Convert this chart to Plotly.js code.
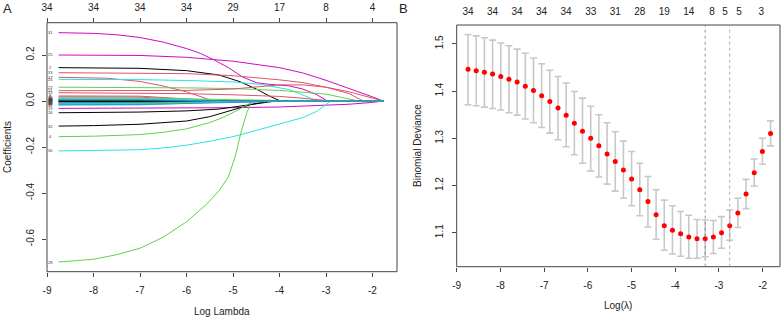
<!DOCTYPE html>
<html>
<head>
<meta charset="utf-8">
<script src="https://cdn.plot.ly/plotly-3.0.1.min.js"></script>
<style>
  html, body { margin: 0; padding: 0; background: #fff; }
  #chart { width: 784px; height: 320px; }
</style>
</head>
<body>
<div id="chart"></div>
<script>
// ---- Panel A: lasso coefficient paths ----
const varIds = [31, 25, 2, 33, 27, 24, 22, 21, 15, 19, 26, 32, 4, 30, 28,
                1, 3, 5, 6, 7, 8, 9, 10, 11, 12, 13, 14, 16, 17, 18, 20, 23, 34, 29];
const pathX = [
  [-8.75, -8, -7.5, -7, -6.5, -6, -5.7, -5.4, -5.1, -4.8, -4.5, -4.2, -3.8, -3.5, -3.2, -2.97, -1.77], // 31
  [-8.75, -7, -6, -5, -4, -3.5, -3, -2.5, -2, -1.77],                  // 25
  [-8.75, -7, -6, -5.3, -4.85, -4.5, -4.2, -3.98, -1.77],             // 2
  [-8.75, -7, -6, -5, -4.5, -4, -3.5, -3, -2.5, -2.2, -1.77],         // 33
  [-8.75, -7.7, -7, -6.5, -6, -5.42, -1.77],                          // 27
  [-8.75, -7, -6, -5, -4.4, -3.8, -3.45, -3.2, -1.77],                // 24
  [-8.75, -7, -6, -5, -4, -3, -2.6, -2.3, -1.77],                     // 22
  [-8.75, -7, -6, -5, -4.5, -4, -3.5, -3, -2.5, -2, -1.77],           // 21
  [-8.75, -7, -6, -5, -4, -3.5, -2.88, -1.77],                        // 15
  [-8.75, -7, -6, -5, -4, -3, -2.5, -2, -1.77],                       // 19
  [-8.75, -7, -6, -5.3, -4.7, -4.2, -1.77],                           // 26
  [-8.75, -8, -7, -6, -5.5, -5, -4.6, -4.08, -1.77],                  // 32
  [-8.75, -8, -7, -6.5, -6, -5.5, -5.2, -4.9, -4.55, -1.77],          // 4
  [-8.75, -8, -7, -6.5, -6, -5.5, -5, -4.5, -4, -3.5, -3.2, -2.9, -1.77], // 30
  [-8.75, -8, -7.5, -7, -6.5, -6, -5.6, -5.3, -5.1, -4.95, -4.82, -4.7, -4.6, -1.77], // 28
  [-8.75, -7, -5.95, -1.77], [-8.75, -7, -5.6, -1.77], [-8.75, -7, -3.3, -1.77],
  [-8.75, -7, -5.05, -1.77], [-8.75, -7, -4.75, -1.77], [-8.75, -7, -3.9, -1.77],
  [-8.75, -7, -5.2, -1.77],  [-8.75, -7, -3.4, -1.77],  [-8.75, -7, -3.5, -1.77],
  [-8.75, -7, -4.4, -1.77],  [-8.75, -7, -4.9, -1.77],  [-8.75, -7, -3.8, -1.77],
  [-8.75, -7, -4.3, -1.77],  [-8.75, -7, -3.55, -1.77], [-8.75, -7, -4.65, -1.77],
  [-8.75, -7, -4.5, -1.77],  [-8.75, -7, -3.65, -1.77], [-8.75, -7, -4.8, -1.77],
  [-8.75, -7, -4.7, -1.77]
];
const pathY = [
  [0.297, 0.294, 0.288, 0.276, 0.256, 0.228, 0.207, 0.178, 0.145, 0.105, 0.08, 0.072, 0.066, 0.052, 0.028, 0, 0],
  [0.200, 0.198, 0.19, 0.173, 0.145, 0.122, 0.09, 0.055, 0.018, 0],
  [0.145, 0.142, 0.132, 0.113, 0.084, 0.052, 0.02, 0, 0],
  [0.123, 0.122, 0.119, 0.11, 0.102, 0.092, 0.08, 0.06, 0.032, 0, 0],
  [0.103, 0.099, 0.085, 0.065, 0.04, 0, 0],
  [0.094, 0.093, 0.089, 0.083, 0.072, 0.05, 0.022, 0, 0],
  [0.060, 0.059, 0.057, 0.054, 0.046, 0.03, 0.014, 0, 0],
  [0.045, 0.045, 0.046, 0.052, 0.062, 0.07, 0.07, 0.06, 0.04, 0.014, 0],
  [0.036, 0.035, 0.032, 0.027, 0.02, 0.012, 0, 0],
  [-0.032, -0.032, -0.031, -0.029, -0.026, -0.019, -0.014, -0.006, 0],
  [-0.051, -0.048, -0.043, -0.035, -0.018, 0, 0],
  [-0.109, -0.107, -0.101, -0.087, -0.068, -0.038, -0.015, 0, 0],
  [-0.155, -0.153, -0.146, -0.136, -0.121, -0.094, -0.07, -0.04, 0, 0],
  [-0.217, -0.216, -0.212, -0.204, -0.192, -0.175, -0.155, -0.128, -0.10, -0.072, -0.045, 0, 0],
  [-0.700, -0.688, -0.668, -0.640, -0.592, -0.525, -0.455, -0.39, -0.33, -0.24, -0.13, -0.05, 0, 0],
  [-0.008, -0.0075, 0, 0], [0.018, 0.017, 0, 0], [-0.004, -0.004, 0, 0],
  [0.010, 0.0095, 0, 0],   [-0.014, -0.013, 0, 0], [0.003, 0.003, 0, 0],
  [0.022, 0.021, 0, 0],    [0.014, 0.013, 0, 0],   [-0.010, -0.0095, 0, 0],
  [-0.018, -0.017, 0, 0],  [0.006, 0.0055, 0, 0],  [-0.002, -0.002, 0, 0],
  [0.008, 0.0075, 0, 0],   [-0.016, -0.015, 0, 0], [0.012, 0.011, 0, 0],
  [0.001, 0.001, 0, 0],    [-0.007, -0.0065, 0, 0], [-0.012, -0.011, 0, 0],
  [0.004, 0.004, 0, 0]
];
const topTicksA = [-9, -8, -7, -6, -5, -4, -3, -2];
const topLabelsA = ['34', '34', '34', '34', '29', '17', '8', '4'];
const yTicksA = [-0.6, -0.4, -0.2, 0, 0.2];
const yLabelsA = ['-0.6', '-0.4', '-0.2', '0.0', '0.2'];

// ---- Panel B: cross-validated binomial deviance ----
const cvLogLambda = [-8.740, -8.553, -8.366, -8.179, -7.992, -7.805, -7.617, -7.430, -7.243, -7.056,
  -6.869, -6.682, -6.495, -6.308, -6.121, -5.934, -5.747, -5.559, -5.372, -5.185,
  -4.998, -4.811, -4.624, -4.437, -4.250, -4.063, -3.876, -3.689, -3.501, -3.314,
  -3.127, -2.940, -2.753, -2.566, -2.379, -2.192, -2.005, -1.818];
const cvMean = [1.446, 1.443, 1.440, 1.436, 1.431, 1.425, 1.419, 1.410, 1.401, 1.390,
  1.378, 1.364, 1.349, 1.332, 1.315, 1.300, 1.284, 1.267, 1.251, 1.233,
  1.214, 1.191, 1.166, 1.138, 1.115, 1.105, 1.098, 1.091, 1.087, 1.087,
  1.091, 1.100, 1.115, 1.142, 1.182, 1.227, 1.272, 1.310];
const cvUpper = [1.520, 1.517, 1.513, 1.508, 1.502, 1.496, 1.489, 1.480, 1.470, 1.458,
  1.444, 1.431, 1.417, 1.399, 1.385, 1.368, 1.350, 1.333, 1.314, 1.294,
  1.272, 1.247, 1.219, 1.191, 1.169, 1.157, 1.145, 1.137, 1.128, 1.127,
  1.126, 1.134, 1.148, 1.173, 1.213, 1.256, 1.300, 1.337];
const cvLower = [1.371, 1.369, 1.366, 1.363, 1.360, 1.354, 1.349, 1.341, 1.333, 1.323,
  1.311, 1.297, 1.282, 1.265, 1.247, 1.231, 1.218, 1.203, 1.188, 1.173,
  1.157, 1.136, 1.112, 1.086, 1.063, 1.055, 1.050, 1.046, 1.046, 1.049,
  1.056, 1.067, 1.084, 1.111, 1.151, 1.199, 1.245, 1.284];
const lambdaMinIdx = 29, lambda1seIdx = 32;
const topTicksB = [-8.74, -8.18, -7.62, -7.06, -6.50, -5.93, -5.37, -4.81, -4.25, -3.69, -3.16, -2.86, -2.54, -2.03];
const topLabelsB = ['34', '34', '34', '34', '34', '33', '31', '28', '19', '14', '8', '5', '5', '3'];
const xTicks = [-9, -8, -7, -6, -5, -4, -3, -2];
const xLabels = ['-9', '-8', '-7', '-6', '-5', '-4', '-3', '-2'];
const yTicksB = [1.1, 1.2, 1.3, 1.4, 1.5];

// R default palette, matplot cycles 1:6
const PALETTE = ['#000000', '#DF536B', '#61D04F', '#2297E6', '#28E2E5', '#CD0BBC'];
const FONT = 'Liberation Sans, Arial, Helvetica, sans-serif';
const INK = '#222';
const W = 784, H = 320;
const px = v => v / W, py = v => 1 - v / H;

const traces = [];
varIds.forEach((id, k) => {
  traces.push({
    x: pathX[k], y: pathY[k], type: 'scatter', mode: 'lines',
    line: { color: PALETTE[(id + 4) % 6], width: 1 },
    xaxis: 'x', yaxis: 'y', showlegend: false, hoverinfo: 'skip'
  });
});
traces.push({
  x: cvLogLambda, y: cvMean, type: 'scatter', mode: 'markers',
  marker: { color: '#ff0000', size: 5 },
  error_y: {
    type: 'data', symmetric: false,
    array: cvUpper.map((u, i) => u - cvMean[i]),
    arrayminus: cvLower.map((l, i) => cvMean[i] - l),
    color: '#c8c8c8', thickness: 1.6, width: 3.5
  },
  xaxis: 'x2', yaxis: 'y2', showlegend: false, hoverinfo: 'skip'
});
// empty traces so the top (count) axes get drawn
traces.push({ x: [], y: [], type: 'scatter', mode: 'lines', xaxis: 'x3', yaxis: 'y',
  showlegend: false, hoverinfo: 'skip' });
traces.push({ x: [], y: [], type: 'scatter', mode: 'lines', xaxis: 'x4', yaxis: 'y2',
  showlegend: false, hoverinfo: 'skip' });

const axBase = {
  showgrid: false, zeroline: false, showline: false,
  ticks: 'outside', ticklen: 4, tickcolor: '#444', tickwidth: 1,
  tickfont: { family: FONT, size: 10, color: INK }
};

const varLabels = varIds.map((id, k) => ({
  x: -8.93, y: pathY[k][0], xref: 'x', yref: 'y', text: String(id),
  showarrow: false, xanchor: 'center', yanchor: 'middle',
  font: { family: FONT, size: 4, color: '#333' }
}));

const textAnn = (text, x, y, size, angle) => ({
  text, x: px(x), y: py(y), xref: 'paper', yref: 'paper', showarrow: false,
  xanchor: 'center', yanchor: 'middle', textangle: angle || 0,
  font: { family: FONT, size, color: INK }
});

const layout = {
  width: W, height: H,
  margin: { l: 0, r: 0, t: 0, b: 0 },
  paper_bgcolor: '#fff', plot_bgcolor: '#fff',
  xaxis: Object.assign({}, axBase, {
    domain: [px(47), px(397)], range: [-9.0, -1.473], anchor: 'y',
    tickvals: xTicks, ticktext: xLabels, ticklabelstandoff: 5
  }),
  yaxis: Object.assign({}, axBase, {
    domain: [py(271.7), py(22.7)], range: [-0.742, 0.3404], anchor: 'x',
    tickvals: yTicksA, ticktext: yLabelsA, tickangle: -90, ticklabelstandoff: 4
  }),
  xaxis3: Object.assign({}, axBase, {
    overlaying: 'x', side: 'top', anchor: 'y', range: [-9.0, -1.473],
    tickvals: topTicksA, ticktext: topLabelsA, ticklabelstandoff: 3
  }),
  xaxis2: Object.assign({}, axBase, {
    domain: [px(456.7), px(780)], range: [-9.0, -1.602], anchor: 'y2',
    tickvals: xTicks, ticktext: xLabels, ticklabelstandoff: 5
  }),
  yaxis2: Object.assign({}, axBase, {
    domain: [py(266.7), py(25)], range: [1.028, 1.540], anchor: 'x2',
    tickvals: yTicksB, tickformat: '.1f', tickangle: -90, ticklabelstandoff: 5
  }),
  xaxis4: Object.assign({}, axBase, {
    overlaying: 'x2', side: 'top', anchor: 'y2', range: [-9.0, -1.602],
    tickvals: topTicksB, ticktext: topLabelsB, ticks: '', ticklabelstandoff: 7
  }),
  shapes: [
    { type: 'rect', xref: 'x domain', yref: 'y domain', x0: 0, x1: 1, y0: 0, y1: 1,
      line: { color: '#444', width: 1 } },
    { type: 'rect', xref: 'x2 domain', yref: 'y2 domain', x0: 0, x1: 1, y0: 0, y1: 1,
      line: { color: '#444', width: 1 } },
    { type: 'line', xref: 'x2', yref: 'y2 domain',
      x0: cvLogLambda[lambdaMinIdx], x1: cvLogLambda[lambdaMinIdx], y0: 0, y1: 1,
      line: { color: '#777', width: 0.8, dash: 'dot' } },
    { type: 'line', xref: 'x2', yref: 'y2 domain',
      x0: cvLogLambda[lambda1seIdx], x1: cvLogLambda[lambda1seIdx], y0: 0, y1: 1,
      line: { color: '#999', width: 0.8, dash: 'dot' } }
  ],
  annotations: varLabels.concat([
    textAnn('A', 8, 9, 13),
    textAnn('B', 403, 8, 13),
    textAnn('Coefficients', 7, 147, 10, -90),
    textAnn('Log Lambda', 222, 311, 10),
    textAnn('Binomial Deviance', 417, 146, 10, -90),
    textAnn('Log(λ)', 618, 305, 10)
  ])
};

Plotly.newPlot('chart', traces, layout, { staticPlot: true, displayModeBar: false });
</script>
</body>
</html>
